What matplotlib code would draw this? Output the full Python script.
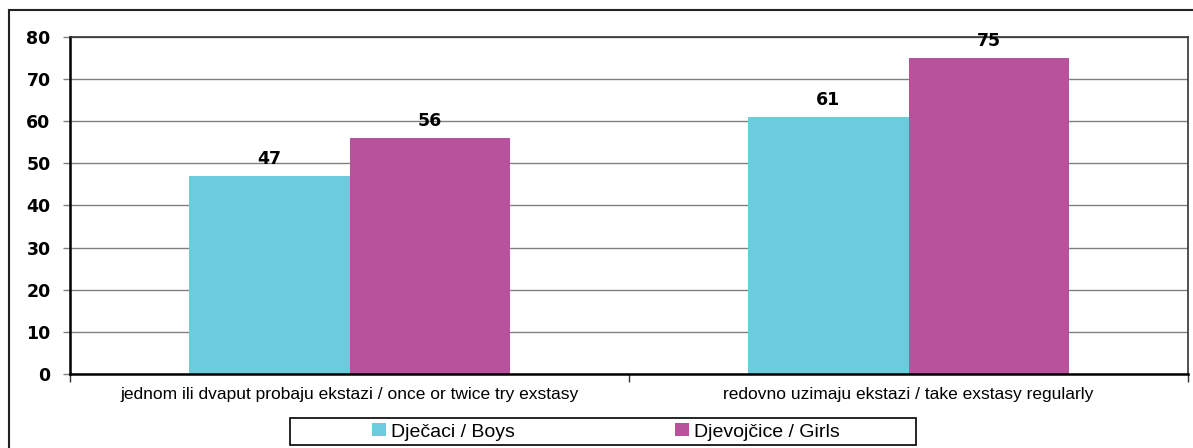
import matplotlib
matplotlib.use("Agg")
import matplotlib.pyplot as plt
from matplotlib.patches import Rectangle
import numpy as np

plt.rcParams['font.family'] = ['Liberation Sans', 'DejaVu Sans']

categories = ["jednom ili dvaput probaju ekstazi / once or twice try exstasy",
              "redovno uzimaju ekstazi / take exstasy regularly"]
series_names = ["Dječaci / Boys", "Djevojčice / Girls"]
boys = [47, 61]
girls = [56, 75]
yticks = [0, 10, 20, 30, 40, 50, 60, 70, 80]

c_boys = "#6CCBDC"
c_girls = "#B8529D"

W, H = 1193, 448
fig = plt.figure(figsize=(W / 100, H / 100), dpi=100)
ax = fig.add_axes([70 / W, 1 - 374 / H, (1188 - 70) / W, (374 - 37) / H])

x = np.arange(len(categories))
bw = 0.287
b1 = ax.bar(x - bw / 2, boys, bw, color=c_boys, label=series_names[0], zorder=2)
b2 = ax.bar(x + bw / 2, girls, bw, color=c_girls, label=series_names[1], zorder=2)

for bars, vals in ((b1, boys), (b2, girls)):
    for r, v in zip(bars, vals):
        ax.annotate(str(v), (r.get_x() + r.get_width() / 2, v), xytext=(0, 6),
                    textcoords="offset points", ha="center", va="bottom",
                    fontsize=12.5, fontweight="bold", family="DejaVu Sans")

ax.set_xlim(-0.5, len(categories) - 0.5)
ax.set_ylim(0, 80)
ax.set_yticks(yticks)
ax.set_yticklabels([str(t) for t in yticks], fontsize=12.5, fontweight="bold",
                   family="DejaVu Sans")
ax.yaxis.grid(True, color="#808080", linewidth=1.0, zorder=0)
ax.set_axisbelow(True)
ax.tick_params(axis="y", length=5, width=1, color="#808080", pad=9)

ax.set_xticks(x)
ax.set_xticklabels(categories, fontsize=12.5)
ax.tick_params(axis="x", length=0, pad=9)
ax.set_xticks([-0.5, 0.5, 1.5], minor=True)
ax.tick_params(axis="x", which="minor", length=6, width=1, color="#333333")

for s in ("left", "bottom"):
    ax.spines[s].set_linewidth(1.8)
    ax.spines[s].set_color("black")
for s in ("top", "right"):
    ax.spines[s].set_linewidth(1.2)
    ax.spines[s].set_color("#333333")

# outer frame of the figure
fig.patches.append(Rectangle((9 / W, -0.05), 1.1, 1.05 - 10 / H,
                             transform=fig.transFigure, fill=False,
                             edgecolor="#222222", linewidth=1.5))

# legend frame
fig.patches.append(Rectangle((290 / W, 1 - 445 / H), (916 - 290) / W, 27 / H,
                             transform=fig.transFigure, fill=True,
                             facecolor="white", edgecolor="black",
                             linewidth=1.2, zorder=3))

leg = fig.legend(handles=[b1, b2], loc="center", ncol=2,
                 bbox_to_anchor=(606 / W, 1 - 432 / H), fontsize=14,
                 frameon=False, handlelength=0.72, handleheight=0.6,
                 handletextpad=0.26, columnspacing=8.2, borderpad=0.0)
leg.set_zorder(4)

fig.savefig("out.png", dpi=100)
